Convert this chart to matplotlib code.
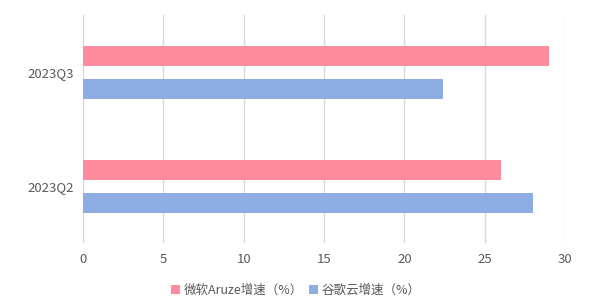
import numpy as np
import matplotlib
matplotlib.use("Agg")
import matplotlib.pyplot as plt

plt.rcParams["font.family"] = ["Noto Sans CJK SC", "DejaVu Sans"]

# Data
quarters = ["2023Q2", "2023Q3"]
azure_growth = [26, 29]
google_growth = [28, 22.4]
series_names = ["微软Aruze增速（%）", "谷歌云增速（%）"]
xticks = [0, 5, 10, 15, 20, 25, 30]

PINK = "#FF8C9D"
BLUE = "#8EADE3"
TEXT = "#595959"

fig = plt.figure(figsize=(6, 3.07), dpi=100)
ax = fig.add_axes([0.138, 0.208, 0.804, 0.743])

y = np.arange(len(quarters))
h = 0.175
off = 0.145
ax.barh(y + off, azure_growth, height=h, color=PINK, label=series_names[0], zorder=3)
ax.barh(y - off, google_growth, height=h, color=BLUE, label=series_names[1], zorder=3)

ax.set_xlim(0, 30)
ax.set_ylim(-0.5, 1.5)
ax.set_xticks(xticks)
ax.set_yticks(y)
ax.set_yticklabels(quarters)
ax.grid(axis="x", color="#D9D9D9", linewidth=1, zorder=0)
for s in ax.spines.values():
    s.set_visible(False)
ax.tick_params(length=0, labelsize=9.5, colors=TEXT, pad=6)
ax.tick_params(axis="x", pad=7)

fig.legend(loc="center", bbox_to_anchor=(0.493, 0.055), ncol=2, frameon=False,
           fontsize=9, handlelength=0.7, handleheight=0.7, handletextpad=0.3,
           columnspacing=0.5, labelcolor=TEXT)

fig.savefig("out.png", dpi=100)
